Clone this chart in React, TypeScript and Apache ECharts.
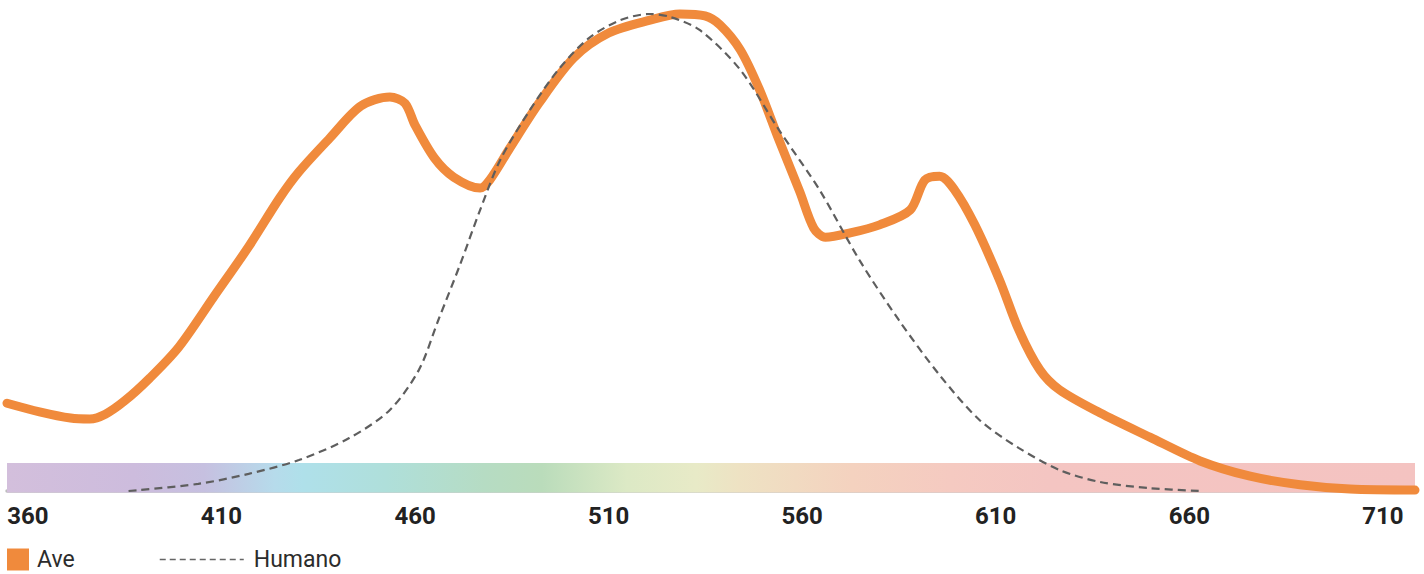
import React, { useEffect, useRef } from "react";
import * as echarts from "echarts";

// Wavelength (nm) and relative sensitivity (%)
const aveWl = [354.6, 363, 371, 376, 380, 385, 391.5, 399, 408, 417, 425, 430, 438, 446, 453.5, 457.4, 460, 465, 470, 476.8, 479.3, 484.5, 492, 501, 510, 520.7, 528.4, 534.9, 538.8, 544, 549, 554, 559.4, 563, 566, 572.4, 580, 587.9, 591.7, 595.5, 599.4, 604.6, 611, 616, 621.4, 626.5, 636.9, 649.8, 662.8, 675.7, 688.6, 701.5, 718.3];
const aveVal = [18.4, 16.6, 15.3, 15.1, 16.1, 18.9, 23.7, 30.2, 40.7, 51.2, 61.4, 66.9, 74.0, 80.7, 82.6, 81.3, 76.7, 69.8, 65.8, 63.5, 65.2, 71.9, 81.3, 90.8, 96.0, 98.7, 100, 99.6, 97.7, 92.5, 84.1, 73.6, 62.7, 55.1, 53.2, 54.1, 55.8, 58.9, 65.2, 66.0, 63.1, 55.8, 44.2, 33.7, 25.4, 21.2, 16.4, 11.3, 6.3, 3.1, 1.3, 0.4, 0.2];

const humWl = [386, 404, 417, 430, 443, 453.5, 461, 466, 471.6, 476.8, 482, 489.7, 497.4, 505, 513, 520.7, 525.8, 533.6, 544, 554, 564.5, 574.8, 585, 595.5, 605.8, 616, 626.5, 636.9, 649.8, 662.8];
const humVal = [0, 1.5, 3.6, 6.5, 11.1, 17.0, 25.4, 35.8, 47.4, 58.9, 69.4, 79.9, 88.7, 95.0, 98.7, 100, 99.4, 96.6, 88.3, 75.7, 63.1, 48.4, 35.8, 24.3, 14.9, 9.0, 4.4, 1.9, 0.6, 0];

const tickLabels = [360, 410, 460, 510, 560, 610, 660, 710];
const xMin = 354.6;
const xMax = 718.3;
const yMin = -0.31;
const bandTop = 5.9;

const spectrumStops = [
  { offset: 0, color: "#d3bfdc" },
  { offset: 0.09, color: "#cdbcdd" },
  { offset: 0.14, color: "#c6c0e0" },
  { offset: 0.19, color: "#b6dbeb" },
  { offset: 0.21, color: "#afe0ea" },
  { offset: 0.27, color: "#afdfda" },
  { offset: 0.34, color: "#b6dcc3" },
  { offset: 0.38, color: "#badcbb" },
  { offset: 0.44, color: "#dce9c5" },
  { offset: 0.49, color: "#e8eac7" },
  { offset: 0.52, color: "#eee2c3" },
  { offset: 0.6, color: "#f4d2bf" },
  { offset: 0.67, color: "#f5cac1" },
  { offset: 0.74, color: "#f4c5c2" },
  { offset: 1, color: "#f4c3c1" },
];

export default function App() {
  const ref = useRef<HTMLDivElement>(null);
  useEffect(() => {
    if (!ref.current) return;
    const chart = echarts.init(ref.current, undefined, { renderer: "svg" });
    const ave = aveWl.map((w, i) => [w, aveVal[i]]);
    const hum = humWl.map((w, i) => [w, humVal[i]]);
    chart.setOption({
      animation: false,
      backgroundColor: "#ffffff",
      grid: { left: 7, right: 9, top: 14, bottom: 81.5 },
      xAxis: {
        type: "value",
        min: xMin,
        max: xMax,
        axisLine: { show: true, lineStyle: { color: "#bdbdbd", width: 3.5 } },
        axisTick: { show: false },
        splitLine: { show: false },
        axisLabel: {
          customValues: tickLabels,
          margin: 11,
          fontFamily: "Roboto",
          fontWeight: "bold",
          fontSize: 24,
          color: "#222222",
        },
      },
      yAxis: { type: "value", min: yMin, max: 100, show: false },
      legend: [
        {
          data: [{ name: "Ave", icon: "rect" }],
          left: 7,
          top: 548,
          padding: 0,
          itemWidth: 22,
          itemHeight: 22,
          textStyle: { fontFamily: "Roboto", fontSize: 23, lineHeight: 20, color: "#2c2c2c", padding: [0, 0, 0, 3] },
        },
        {
          data: ["Humano"],
          left: 159,
          top: 548,
          padding: 0,
          itemWidth: 84,
          itemHeight: 22,
          itemStyle: { opacity: 0 },
          lineStyle: { color: "#666666", width: 1.5, type: [6, 4], opacity: 1 },
          textStyle: { fontFamily: "Roboto", fontSize: 23, lineHeight: 20, color: "#2c2c2c", padding: [0, 0, 0, 5] },
        },
      ],
      series: [
        {
          name: "Ave",
          type: "line",
          data: ave,
          smooth: 0.3,
          symbol: "none",
          clip: false,
          color: "#f08a3c",
          lineStyle: { color: "#f08a3c", width: 9, cap: "round", join: "round" },
          markArea: {
            silent: true,
            itemStyle: {
              color: { type: "linear", x: 0, y: 0, x2: 1, y2: 0, colorStops: spectrumStops },
            },
            data: [[{ xAxis: xMin, yAxis: yMin }, { xAxis: xMax, yAxis: bandTop }]],
          },
          z: 2,
        },
        {
          name: "Humano",
          type: "line",
          data: hum,
          smooth: 0.3,
          symbol: "none",
          clip: false,
          color: "#666666",
          lineStyle: { color: "#5e5e5e", width: 2.2, type: [8, 5] },
          z: 3,
        },
      ],
    });
    return () => chart.dispose();
  }, []);
  return (
    <div
      ref={ref}
      style={{ position: "fixed", left: 0, top: 0, width: 1424, height: 574 }}
    />
  );
}
